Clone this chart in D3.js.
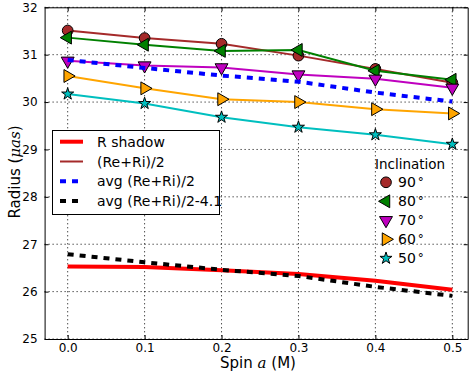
<!DOCTYPE html>
<html>
<head>
<meta charset="utf-8">
<script src="https://cdn.jsdelivr.net/npm/d3@7"></script>
<style>
  html, body { margin: 0; padding: 0; background: #fff; }
  svg { display: block; font-family: "DejaVu Sans", sans-serif; }
</style>
</head>
<body>
<svg id="chart" width="470" height="379"></svg>
<script>
// Spin values (in units of M)
const spins = [0.0, 0.1, 0.2, 0.3, 0.4, 0.5];

// Radius (μas) for each inclination
const incl90 = [31.51, 31.35, 31.23, 30.98, 30.70, 30.41];
const incl80 = [31.36, 31.21, 31.08, 31.10, 30.66, 30.47];
const incl70 = [30.87, 30.77, 30.73, 30.58, 30.49, 30.30];
const incl60 = [30.55, 30.29, 30.06, 30.00, 29.85, 29.76];
const incl50 = [30.17, 29.97, 29.68, 29.47, 29.31, 29.11];

// Averages and shadow radius
const avgRadius = [30.89, 30.72, 30.56, 30.43, 30.20, 30.01];
const avgShifted = [26.79, 26.62, 26.46, 26.33, 26.10, 25.91];
const shadowRadius = [26.53, 26.52, 26.45, 26.37, 26.23, 26.04];

const xTicks = [0.0, 0.1, 0.2, 0.3, 0.4, 0.5];
const yTicks = [25, 26, 27, 28, 29, 30, 31, 32];

const inclinationLabels = ["90", "80", "70", "60", "50"];

const svg = d3.select("#chart");
const plotLeft = 44.6, plotRight = 467.7, plotTop = 7.3, plotBottom = 339;

const x = d3.scaleLinear().domain([-0.03, 0.52]).range([plotLeft, plotRight]);
const y = d3.scaleLinear().domain([25, 32]).range([plotBottom, plotTop]);

// grid
const grid = svg.append("g");
grid.selectAll(".gx").data(xTicks).enter().append("line")
  .attr("x1", d => x(d)).attr("x2", d => x(d))
  .attr("y1", plotTop).attr("y2", plotBottom)
  .attr("stroke", "#000").attr("stroke-width", 1).attr("stroke-dasharray", "1,3");
grid.selectAll(".gy").data(yTicks).enter().append("line")
  .attr("y1", d => y(d)).attr("y2", d => y(d))
  .attr("x1", plotLeft).attr("x2", plotRight)
  .attr("stroke", "#000").attr("stroke-width", 1).attr("stroke-dasharray", "1,3");

// axes with inward ticks
const fmtX = d3.format(".1f");
const axB = svg.append("g").attr("transform", `translate(0,${plotBottom})`)
  .call(d3.axisBottom(x).tickValues(xTicks).tickFormat(fmtX).tickSizeInner(-4).tickSizeOuter(0).tickPadding(4));
const axT = svg.append("g").attr("transform", `translate(0,${plotTop})`)
  .call(d3.axisTop(x).tickValues(xTicks).tickFormat("").tickSizeInner(-4).tickSizeOuter(0));
const axL = svg.append("g").attr("transform", `translate(${plotLeft},0)`)
  .call(d3.axisLeft(y).tickValues(yTicks).tickFormat(d3.format("d")).tickSizeInner(-4).tickSizeOuter(0).tickPadding(7));
const axR = svg.append("g").attr("transform", `translate(${plotRight},0)`)
  .call(d3.axisRight(y).tickValues(yTicks).tickFormat("").tickSizeInner(-4).tickSizeOuter(0));
[axB, axT, axL, axR].forEach(g => {
  g.selectAll("text").attr("font-size", 12).attr("font-family", "DejaVu Sans").attr("fill", "#000");
  g.selectAll("line").attr("stroke", "#000");
  g.select(".domain").attr("stroke", "#000").attr("stroke-width", 1);
});

const line = d3.line().x((d, i) => x(spins[i])).y(d => y(d));

const symCircle = d3.symbol().type(d3.symbolCircle).size(90);
const symTri = d3.symbol().type(d3.symbolTriangle).size(72);
const symStar = d3.symbol().type(d3.symbolStar).size(45);

const series = [
  { values: incl90, color: "#a52a2a", shape: symCircle, rot: 0 },
  { values: incl80, color: "#008000", shape: symTri, rot: -90 },
  { values: incl70, color: "#bf00bf", shape: symTri, rot: 180 },
  { values: incl60, color: "#ffa500", shape: symTri, rot: 90 },
  { values: incl50, color: "#00bfbf", shape: symStar, rot: 0 }
];

const plot = svg.append("g");

// inclination curves with markers
series.forEach(s => {
  plot.append("path").datum(s.values).attr("d", line)
    .attr("fill", "none").attr("stroke", s.color).attr("stroke-width", 2);
  plot.selectAll(null).data(s.values).enter().append("path")
    .attr("d", s.shape())
    .attr("transform", (d, i) => `translate(${x(spins[i])},${y(d)}) rotate(${s.rot})`)
    .attr("fill", s.color).attr("stroke", "#000").attr("stroke-width", 1);
});

// shadow radius and averages
plot.append("path").datum(shadowRadius).attr("d", line)
  .attr("fill", "none").attr("stroke", "#ff0000").attr("stroke-width", 4);
plot.append("path").datum(avgRadius).attr("d", line)
  .attr("fill", "none").attr("stroke", "#0000ff").attr("stroke-width", 4).attr("stroke-dasharray", "6,6");
plot.append("path").datum(avgShifted).attr("d", line)
  .attr("fill", "none").attr("stroke", "#000").attr("stroke-width", 4).attr("stroke-dasharray", "6,6");

// line legend
const lg = svg.append("g");
lg.append("rect").attr("x", 52.5).attr("y", 130.5).attr("width", 167).attr("height", 84)
  .attr("fill", "#fff").attr("stroke", "#000").attr("stroke-width", 1);
const lineItems = [
  { label: "R shadow", color: "#ff0000", w: 4, dash: null },
  { label: "(Re+Ri)/2", color: "#a52a2a", w: 2, dash: null },
  { label: "avg (Re+Ri)/2", color: "#0000ff", w: 4, dash: "6,6" },
  { label: "avg (Re+Ri)/2-4.1", color: "#000", w: 4, dash: "6,6" }
];
lineItems.forEach((it, i) => {
  const yy = 141.7 + i * 19.8;
  lg.append("line").attr("x1", 60).attr("x2", 83).attr("y1", yy).attr("y2", yy)
    .attr("stroke", it.color).attr("stroke-width", it.w).attr("stroke-dasharray", it.dash);
  lg.append("text").attr("x", 97).attr("y", yy + 5).attr("font-size", 14).text(it.label);
});

// inclination legend
const ig = svg.append("g");
ig.append("text").attr("x", 375).attr("y", 168.5).attr("font-size", 13.5).text("Inclination");
series.forEach((s, i) => {
  const yy = 182.3 + i * 19;
  ig.append("path").attr("d", s.shape())
    .attr("transform", `translate(386,${yy}) rotate(${s.rot})`)
    .attr("fill", s.color).attr("stroke", "#000").attr("stroke-width", 1);
  const t = ig.append("text").attr("x", 398).attr("y", yy + 5).attr("font-size", 14);
  t.append("tspan").text(inclinationLabels[i]);
  t.append("tspan").attr("dx", 2).attr("dy", -1).attr("font-size", 12).text("°");
});

// axis titles
const xl = svg.append("text").attr("x", 258).attr("y", 368).attr("text-anchor", "middle").attr("font-size", 15);
xl.append("tspan").text("Spin ");
xl.append("tspan").attr("font-family", "DejaVu Serif").attr("font-style", "italic").text("a");
xl.append("tspan").text(" (M)");

const yl = svg.append("text").attr("transform", "translate(20,172) rotate(-90)")
  .attr("text-anchor", "middle").attr("font-size", 15);
yl.append("tspan").text("Radius (");
yl.append("tspan").attr("font-family", "DejaVu Serif").attr("font-style", "italic").text("μas");
yl.append("tspan").text(")");
</script>
</body>
</html>
